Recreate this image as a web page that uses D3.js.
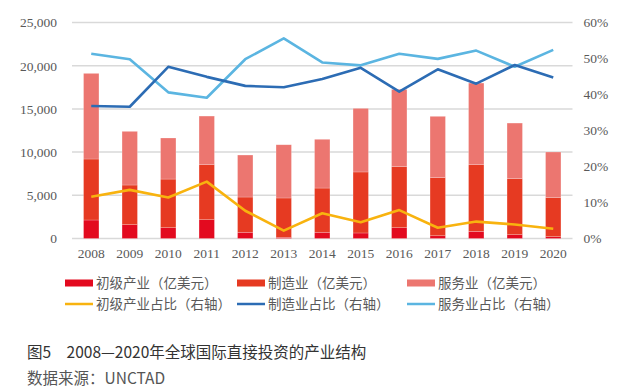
<!DOCTYPE html>
<html><head><meta charset="utf-8">
<script src="https://cdn.jsdelivr.net/npm/d3@7/dist/d3.min.js"></script>
<style>
html,body{margin:0;padding:0;background:#fff;}
svg{display:block;}
</style></head>
<body><svg id="c" width="623" height="392"></svg>
<script>
const years = ["2008","2009","2010","2011","2012","2013","2014","2015","2016","2017","2018","2019","2020"];
const primary = [2140,1600,1250,2175,720,140,720,640,1250,320,830,440,210];
const manufacturing = [7060,4590,5630,6365,4080,4550,5120,7060,7060,6720,7710,6480,4510];
const services = [9910,6210,4750,5630,4860,6160,5640,7360,8950,7100,9450,6440,5290];
const primaryShare = [11.6,13.5,11.4,15.8,7.7,2.2,7.0,4.5,7.9,3.0,4.7,3.9,2.7];
const manufacturingShare = [36.8,36.6,47.7,44.9,42.4,42.0,44.3,47.4,40.8,47.0,43.0,48.2,44.7];
const servicesShare = [51.3,49.8,40.6,39.1,49.8,55.6,48.9,48.1,51.3,49.9,52.2,47.7,52.4];
const leftTicks = [0,5000,10000,15000,20000,25000];
const rightTicks = [0,10,20,30,40,50,60];
const legendItems = [
  {label:"初级产业（亿美元）", type:"bar", color:"#e30a1f"},
  {label:"制造业（亿美元）", type:"bar", color:"#e63a22"},
  {label:"服务业（亿美元）", type:"bar", color:"#ec7670"},
  {label:"初级产业占比（右轴）", type:"line", color:"#f8b30f"},
  {label:"制造业占比（右轴）", type:"line", color:"#2c6cb4"},
  {label:"服务业占比（右轴）", type:"line", color:"#5bb5e1"}
];
const caption = "图5　2008—2020年全球国际直接投资的产业结构";
const source = "数据来源：UNCTAD";

const svg = d3.select("#c");
const L = 72, R = 572.5, T = 22.5, B = 238.5;
const x = d3.scaleBand().domain(years).range([L,R]).paddingInner(0.6).paddingOuter(0.3);
const yL = d3.scaleLinear().domain([0,25000]).range([B,T]);
const yR = d3.scaleLinear().domain([0,60]).range([B,T]);
const serif = "'Liberation Serif','Times New Roman',serif";
const cjk = "'Noto Sans CJK SC','Noto Sans',sans-serif";

// gridlines
svg.append("g").selectAll("line").data(leftTicks).join("line")
  .attr("x1",L).attr("x2",R).attr("y1",d=>yL(d)).attr("y2",d=>yL(d))
  .attr("stroke","#d9d9d9").attr("stroke-width",1.5);

// left axis
const axL = svg.append("g").attr("transform",`translate(${L},0)`)
  .call(d3.axisLeft(yL).tickValues(leftTicks).tickFormat(d3.format(",")).tickSize(0).tickPadding(15));
axL.select(".domain").remove();
axL.selectAll("text").attr("font-family",serif).attr("font-size",13.5).attr("fill","#595959");

// right axis
const axR = svg.append("g").attr("transform",`translate(${R},0)`)
  .call(d3.axisRight(yR).tickValues(rightTicks).tickFormat(d=>d+"%").tickSize(0).tickPadding(11));
axR.select(".domain").remove();
axR.selectAll("text").attr("font-family",serif).attr("font-size",13.5).attr("fill","#595959");

// x axis
const axX = svg.append("g").attr("transform",`translate(0,${B})`)
  .call(d3.axisBottom(x).tickSize(0).tickPadding(10));
axX.select(".domain").remove();
axX.selectAll("text").attr("font-family",serif).attr("font-size",13.5).attr("fill","#595959");

// stacked bars
const rows = years.map((y,i)=>({year:y, primary:primary[i], manufacturing:manufacturing[i], services:services[i]}));
const keys = ["primary","manufacturing","services"];
const barColors = {primary:"#e30a1f", manufacturing:"#e63a22", services:"#ec7670"};
const stack = d3.stack().keys(keys)(rows);
svg.append("g").selectAll("g").data(stack).join("g")
  .attr("fill",d=>barColors[d.key])
  .selectAll("rect").data(d=>d).join("rect")
  .attr("x",d=>x(d.data.year)).attr("width",x.bandwidth())
  .attr("y",d=>yL(d[1])).attr("height",d=>yL(d[0])-yL(d[1]))
  .attr("stroke","rgba(255,255,255,0.35)").attr("stroke-width",0.6);

// lines
const line = d3.line().x((d,i)=>x(years[i])+x.bandwidth()/2).y(d=>yR(d));
[[servicesShare,"#5bb5e1"],[manufacturingShare,"#2c6cb4"],[primaryShare,"#f8b30f"]].forEach(([data,col])=>{
  svg.append("path").attr("d",line(data)).attr("fill","none").attr("stroke",col)
    .attr("stroke-width",2.6).attr("stroke-linejoin","round");
});

// legend
const legX = [65,237,407], legY = [283,304];
const lg = svg.append("g");
legendItems.forEach((it,i)=>{
  const cx = legX[i%3], cy = legY[Math.floor(i/3)];
  if(it.type==="bar"){
    lg.append("rect").attr("x",cx).attr("y",cy-3.5).attr("width",28).attr("height",7).attr("fill",it.color);
  } else {
    lg.append("line").attr("x1",cx).attr("x2",cx+28).attr("y1",cy).attr("y2",cy)
      .attr("stroke",it.color).attr("stroke-width",2.5);
  }
  lg.append("text").attr("x",cx+31).attr("y",cy).attr("dy","0.36em")
    .attr("font-family",cjk).attr("font-size",13.5).attr("fill","#595959").text(it.label);
});

// caption
svg.append("text").attr("x",27).attr("y",358).attr("font-family",cjk).attr("font-size",15.5)
  .attr("fill","#333").text(caption);
svg.append("text").attr("x",27).attr("y",384).attr("font-family",cjk).attr("font-size",15.5)
  .attr("fill","#555").text(source);
</script></body></html>
